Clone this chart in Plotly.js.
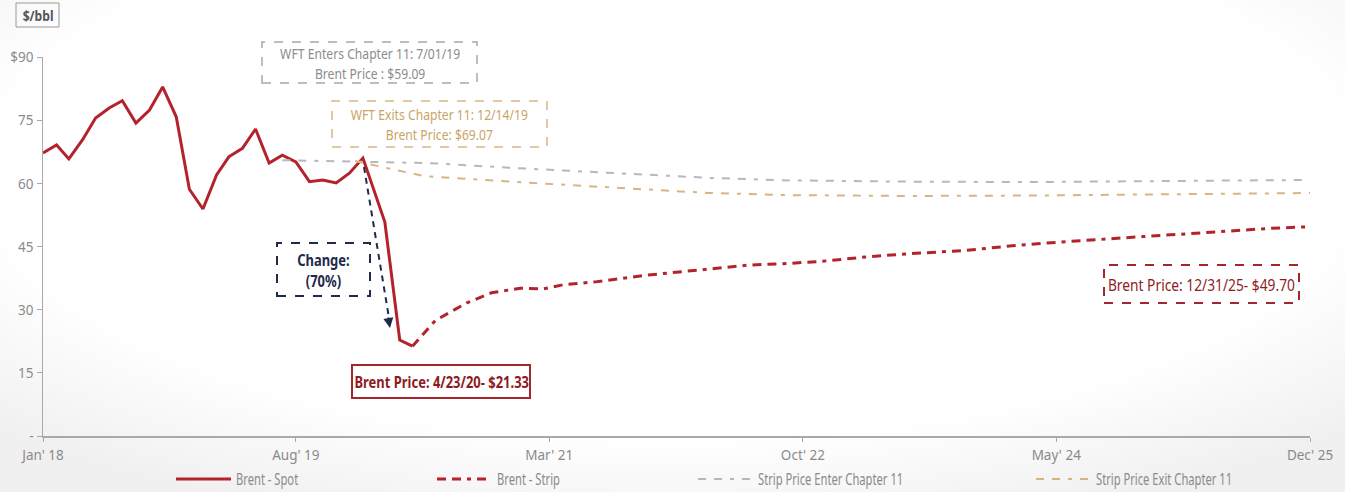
<!DOCTYPE html>
<html>
<head>
<meta charset="utf-8">
<script src="https://cdn.plot.ly/plotly-3.0.1.min.js"></script>
<style>
  html, body { margin: 0; padding: 0; background: #ffffff; }
  #chart {
    width: 1345px; height: 492px;
    background: radial-gradient(ellipse 70% 75% at 50% 35%, #ffffff 72%, #f0f0f0 100%);
  }
  /* condensed legend labels */
  #chart text.legendtext, #chart g.legend2 text {
    transform-box: fill-box;
    transform-origin: 0 50%;
    transform: scaleX(0.70);
  }
</style>
</head>
<body>
<div id="chart"></div>
<script>
// Brent spot, monthly to Jan 2020, then the COVID collapse
const spotDates = [
  '2018-01-01','2018-02-01','2018-03-01','2018-04-01','2018-05-01','2018-06-01',
  '2018-07-01','2018-08-01','2018-09-01','2018-10-01','2018-11-01','2018-12-01',
  '2019-01-01','2019-02-01','2019-03-01','2019-04-01','2019-05-01','2019-06-01',
  '2019-07-01','2019-08-01','2019-09-01','2019-10-01','2019-11-01','2019-12-01',
  '2020-01-01','2020-02-20','2020-03-25','2020-04-23'
];
const spotValues = [
  67.2, 69.1, 65.8, 70.3, 75.5, 77.9,
  79.6, 74.3, 77.4, 82.9, 75.8, 58.6,
  53.9, 62.0, 66.3, 68.3, 72.9, 64.8,
  66.7, 65.1, 60.4, 60.8, 60.1, 62.4,
  66.0, 50.8, 22.8, 21.33
];

// Brent futures strip from the April 2020 low
const stripDates = [
  '2020-04-23','2020-06-15','2020-08-25','2020-10-20','2020-12-25','2021-02-15',
  '2021-04-01','2021-06-15','2021-10-10','2022-02-01','2022-06-01','2022-09-01',
  '2022-11-15','2023-03-01','2023-06-15','2023-10-01','2024-01-15','2024-04-20',
  '2024-08-10','2024-11-15','2025-02-20','2025-06-01','2025-09-01','2025-12-01'
];
const stripValues = [
  21.33, 27.5, 31.6, 34.0, 35.1, 34.9,
  35.9, 36.6, 38.2, 39.4, 40.6, 41.0,
  41.5, 42.6, 43.4, 44.0, 45.1, 45.9,
  46.6, 47.35, 48.0, 48.7, 49.3, 49.70
];

// Strip curve on the Chapter 11 filing date
const enterDates = [
  '2019-07-01','2020-01-01','2020-06-01','2020-12-01','2021-08-01','2022-03-01',
  '2022-09-01','2023-06-01','2024-03-01','2024-12-01','2025-12-01'
];
const enterValues = [65.5, 65.1, 64.8, 63.7, 62.4, 61.3, 60.7, 60.4, 60.3, 60.5, 60.8];

// Strip curve on the Chapter 11 exit date
const exitDates = [
  '2019-12-14','2020-03-20','2020-05-20','2020-12-01','2021-08-01','2022-03-01',
  '2022-09-01','2023-06-01','2024-03-01','2024-12-01','2025-12-01'
];
const exitValues = [65.3, 63.0, 61.7, 60.4, 58.9, 57.7, 57.2, 57.0, 57.1, 57.4, 57.7];

// Axis ticks
const tickDates = ['2018-01-01','2019-08-01','2021-03-01','2022-10-01','2024-05-01','2025-12-01'];
const tickLabels = ["Jan' 18","Aug' 19","Mar' 21","Oct' 22","May' 24","Dec' 25"];
const yTickVals = [0, 15, 30, 45, 60, 75, 90];
const yTickLabels = ['-', '15', '30', '45', '60', '75', '$90'];

const FONT = '"Noto Sans", "Liberation Sans", sans-serif';
const RED = '#B3232D';
const GRAY = '#B7B7BD';
const TAN = '#D6B680';
const NAVY = '#1E2B4A';
const TICK_GRAY = '#8a8a8a';

// plot area in page pixels
const L = 43, R = 1310, T = 57, B = 436;
const px = x => (x - L) / (R - L);
const py = y => (B - y) / (B - T);

function box(x0, y0, x1, y1, color, dash, width) {
  return { type: 'rect', xref: 'paper', yref: 'paper',
    x0: px(x0), x1: px(x1), y0: py(y1), y1: py(y0),
    line: { color: color, width: width, dash: dash }, fillcolor: 'rgba(0,0,0,0)' };
}
function label(x, y, text, color, size, bold) {
  return { xref: 'paper', yref: 'paper', x: px(x), y: py(y), text: bold ? '<b>' + text + '</b>' : text,
    showarrow: false, xanchor: 'center', yanchor: 'middle', align: 'center',
    font: { family: FONT, size: size, color: color } };
}

const traces = [
  { x: spotDates, y: spotValues, type: 'scatter', mode: 'lines', name: 'Brent - Spot',
    line: { color: RED, width: 3 }, legend: 'legend' },
  { x: stripDates, y: stripValues, type: 'scatter', mode: 'lines', name: 'Brent - Strip',
    line: { color: RED, width: 3, dash: '9px,6px,9px,6px,4px,6px' }, legend: 'legend' },
  { x: enterDates, y: enterValues, type: 'scatter', mode: 'lines', name: 'Strip Price Enter Chapter 11',
    line: { color: GRAY, width: 2, dash: '8px,8px,8px,8px,4px,8px' }, legend: 'legend' },
  { x: exitDates, y: exitValues, type: 'scatter', mode: 'lines', name: 'Strip Price Exit Chapter 11',
    line: { color: TAN, width: 2, dash: '8px,8px,8px,8px,4px,8px' }, legend: 'legend2' }
];

const layout = {
  width: 1345, height: 492,
  margin: { l: L, r: 1345 - R, t: T, b: 492 - B, autoexpand: false },
  paper_bgcolor: 'rgba(0,0,0,0)', plot_bgcolor: 'rgba(0,0,0,0)',
  font: { family: FONT, size: 15, color: TICK_GRAY },
  showlegend: true,
  legend: { orientation: 'h', x: px(171), xanchor: 'left', y: py(479), yanchor: 'middle',
    entrywidth: 191, entrywidthmode: 'pixels', itemwidth: 55, tracegroupgap: 0,
    font: { family: FONT, size: 16, color: TICK_GRAY }, bgcolor: 'rgba(0,0,0,0)' },
  legend2: { orientation: 'h', x: px(1031), xanchor: 'left', y: py(479), yanchor: 'middle',
    itemwidth: 55, font: { family: FONT, size: 16, color: TICK_GRAY }, bgcolor: 'rgba(0,0,0,0)' },
  xaxis: {
    type: 'date', range: ['2018-01-01', '2025-12-01'],
    tickmode: 'array', tickvals: tickDates, ticktext: tickLabels,
    showgrid: false, zeroline: false, showline: true, linecolor: '#a9a9a9', linewidth: 2,
    ticks: 'outside', ticklen: 4, tickcolor: '#a9a9a9', tickwidth: 1,
    tickfont: { family: FONT, size: 15, color: TICK_GRAY }
  },
  yaxis: {
    range: [0, 90], tickmode: 'array', tickvals: yTickVals, ticktext: yTickLabels,
    showgrid: false, zeroline: false, showline: true, linecolor: '#a9a9a9', linewidth: 1.5,
    ticks: 'outside', ticklen: 5, tickcolor: '#a9a9a9', tickwidth: 1,
    tickfont: { family: FONT, size: 15, color: TICK_GRAY }
  },
  shapes: [
    box(16, 3, 59, 27, '#9a9a9a', 'solid', 1),
    box(262, 42, 477, 83, '#a8a8a8', 'dash', 1.5),
    box(332, 101, 547, 147, TAN, 'dash', 1.5),
    box(277, 243, 370, 296, NAVY, 'dash', 2),
    box(352, 365, 530, 398, '#A3262C', 'solid', 2),
    box(1104, 265, 1299, 303, '#A3262C', 'dash', 2),
    { type: 'line', xref: 'paper', yref: 'paper', x0: px(364), y0: py(167), x1: px(389), y1: py(318),
      line: { color: NAVY, width: 2, dash: '6px,5px' } }
  ],
  annotations: [
    label(37.5, 15, '$/bbl', '#555555', 15, true),
    label(369.5, 62.5, 'WFT Enters Chapter 11: 7/01/19<br>Brent Price : $59.09', '#8c8c8c', 15, false),
    label(439.5, 124, 'WFT Exits Chapter 11: 12/14/19<br>Brent Price: $69.07', '#C9A466', 15, false),
    label(323.5, 270, 'Change:<br>(70%)', NAVY, 16, true),
    label(441, 382, 'Brent Price: 4/23/20- $21.33', '#8E1B22', 16, true),
    label(1201.5, 284, 'Brent Price: 12/31/25- $49.70', '#8E1B22', 17, false),
    { xref: 'paper', yref: 'paper', x: px(390), y: py(328), ax: -2, ay: -12, text: '',
      showarrow: true, arrowhead: 2, arrowsize: 1, arrowwidth: 2, arrowcolor: NAVY }
  ]
};

// Narrow the glyphs of a text node (or of each of its lines) to a condensed look
function condense(textEl, k) {
  if (textEl.getAttribute('data-condensed')) return;
  const lines = textEl.querySelectorAll('tspan.line');
  const targets = lines.length ? Array.from(lines) : [textEl];
  let done = true;
  targets.forEach(function (t) {
    const w = t.getComputedTextLength();
    if (w > 0) {
      t.setAttribute('textLength', (w * k).toFixed(2));
      t.setAttribute('lengthAdjust', 'spacingAndGlyphs');
    } else {
      done = false;
    }
  });
  if (done) textEl.setAttribute('data-condensed', '1');
}

function condenseAll() {
  const gd = document.getElementById('chart');
  gd.querySelectorAll('.xtick text, .ytick text').forEach(function (t) { condense(t, 0.9); });
  gd.querySelectorAll('.annotation-text').forEach(function (t) { condense(t, 0.81); });
}

Plotly.newPlot('chart', traces, layout, { displayModeBar: false, staticPlot: true }).then(function () {
  condenseAll();
  requestAnimationFrame(condenseAll);
  setTimeout(condenseAll, 30);
  setTimeout(condenseAll, 150);
});
</script>
</body>
</html>
